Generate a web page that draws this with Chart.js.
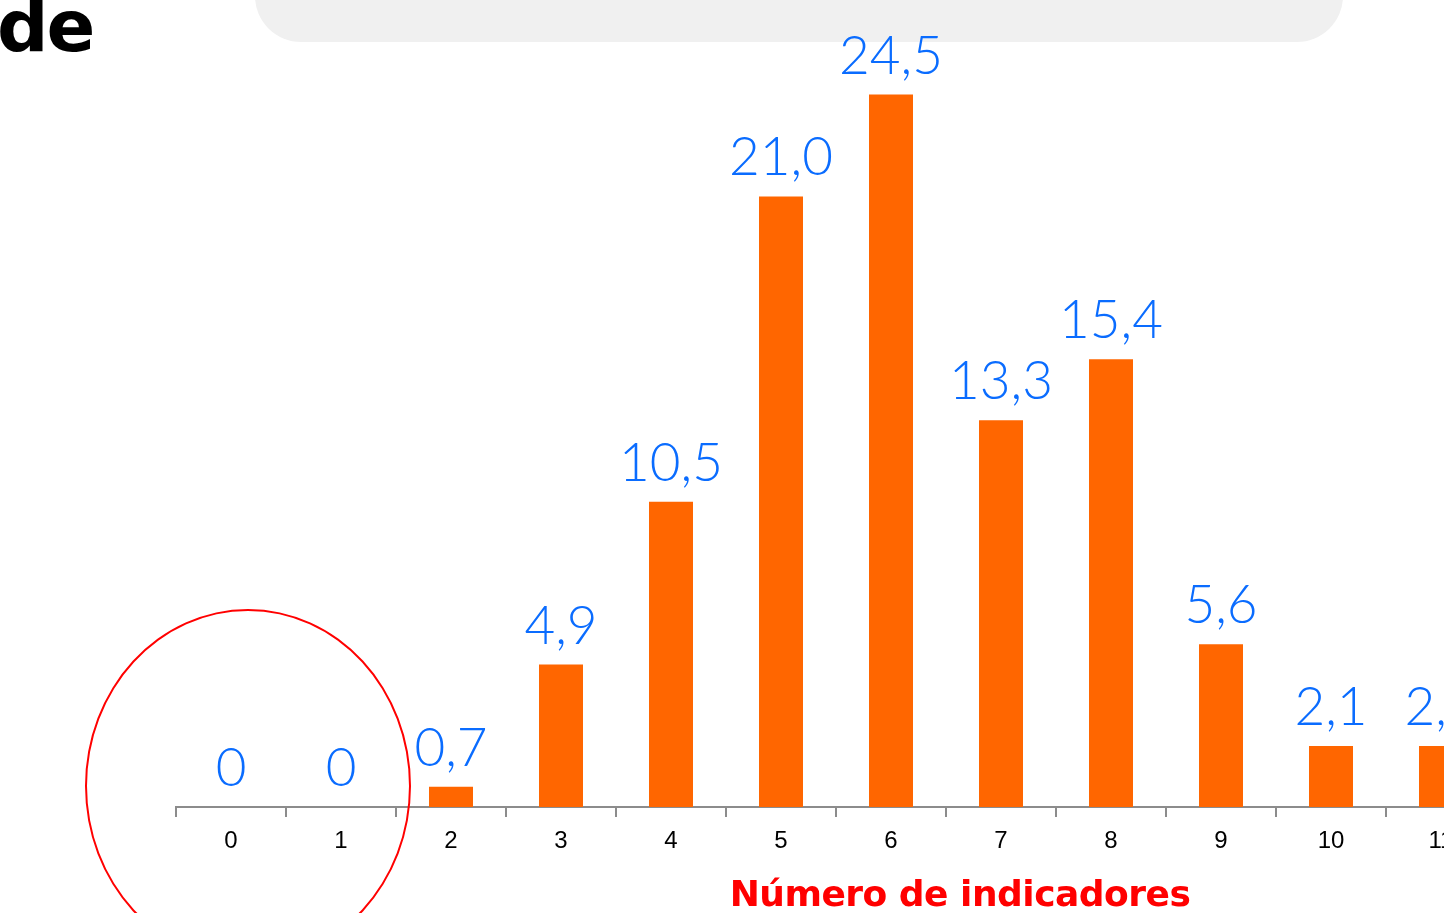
<!DOCTYPE html>
<html>
<head>
<meta charset="utf-8">
<script src="https://cdn.jsdelivr.net/npm/chart.js@4"></script>
<style>
html,body{margin:0;padding:0;width:1444px;height:913px;overflow:hidden;background:#fff;position:relative;}
#wrap{position:absolute;left:0;top:0;width:1500px;height:913px;}
#band{position:absolute;left:255px;top:-60px;width:1088px;height:102px;background:#f0f0f0;border-radius:46px;}
#de{position:absolute;left:-3px;top:-16px;font:bold 72px "DejaVu Sans",sans-serif;color:#000;letter-spacing:-2px;}
#circle{position:absolute;left:85px;top:609px;width:322px;height:350px;border:2px solid #ff0000;border-radius:50%;pointer-events:none;}
#xtitle{position:absolute;left:660px;width:600px;top:873px;text-align:center;font:bold 36px "DejaVu Sans",sans-serif;color:#ff0000;letter-spacing:-0.5px;}
</style>
</head>
<body>
<div id="band"></div>
<div id="de">de</div>
<div id="wrap"><canvas id="c" width="1500" height="913"></canvas></div>
<div id="circle"></div>
<div id="xtitle">Número de indicadores</div>
<script>
const categories = ["0","1","2","3","4","5","6","7","8","9","10","11"];
const values = [0, 0, 0.7, 4.9, 10.5, 21.0, 24.5, 13.3, 15.4, 5.6, 2.1, 2.1];
const xAxisTitle = "Número de indicadores";

const fmt = v => v === 0 ? "0" : v.toFixed(1).replace(".", ",");

const labelPlugin = {
  id: "valueLabels",
  afterDatasetsDraw(chart) {
    const ctx = chart.ctx;
    const meta = chart.getDatasetMeta(0);
    ctx.save();
    ctx.fillStyle = "#0a6cff";
    ctx.font = "300 53px Lato";
    ctx.textAlign = "center";
    ctx.textBaseline = "alphabetic";
    meta.data.forEach((bar, i) => {
      ctx.fillText(fmt(values[i]), bar.x, bar.y - 21);
    });
    ctx.restore();
  }
};

new Chart(document.getElementById("c"), {
  type: "bar",
  data: {
    labels: categories,
    datasets: [{
      data: values,
      backgroundColor: "#ff6600",
      borderWidth: 0,
      barPercentage: 0.4,
      categoryPercentage: 1.0
    }]
  },
  options: {
    responsive: false,
    animation: false,
    layout: { padding: { left: 176, top: 51, right: 4, bottom: 0 } },
    plugins: { legend: { display: false }, tooltip: { enabled: false }, title: { display: false } },
    scales: {
      y: { display: false, min: 0, max: 26 },
      x: {
        afterFit(scale) { scale.height = 106; },
        border: { display: true, color: "#8c8c8c", width: 2 },
        grid: { display: true, drawOnChartArea: false, drawTicks: true, tickLength: 10, color: "#8c8c8c", lineWidth: 2, offset: true },
        ticks: { color: "#000", font: { family: "Liberation Sans", size: 24 }, padding: 10, maxRotation: 0 }
      }
    }
  },
  plugins: [labelPlugin]
});
</script>
</body>
</html>
